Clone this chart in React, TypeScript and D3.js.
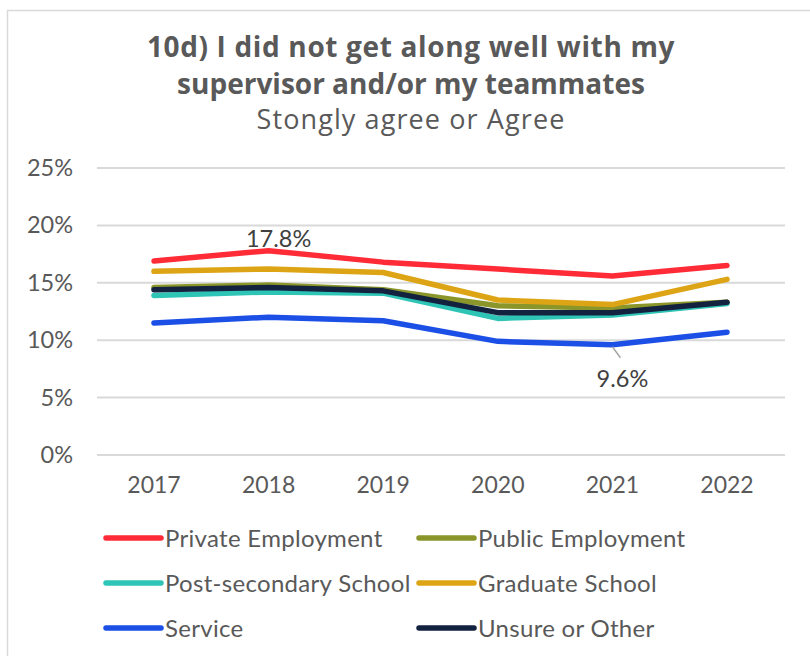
import React from "react";
import * as d3 from "d3";

const years = ["2017", "2018", "2019", "2020", "2021", "2022"];
const yTicks = [0, 5, 10, 15, 20, 25];
const seriesNames = ["Private Employment", "Public Employment", "Post-secondary School", "Graduate School", "Service", "Unsure or Other"];
const seriesColors = ["#FF2B36", "#8A962A", "#2EC4B6", "#DDA515", "#1B4FE6", "#13223F"];
const privateEmp = [16.9, 17.8, 16.8, 16.2, 15.6, 16.5];
const publicEmp = [14.6, 14.8, 14.4, 13.0, 12.8, 13.3];
const postSecondary = [13.9, 14.2, 14.1, 11.9, 12.2, 13.2];
const graduate = [16.0, 16.2, 15.9, 13.5, 13.1, 15.3];
const service = [11.5, 12.0, 11.7, 9.9, 9.6, 10.7];
const unsure = [14.4, 14.6, 14.3, 12.4, 12.4, 13.3];
const seriesValues = [privateEmp, publicEmp, postSecondary, graduate, service, unsure];

const W = 810, H = 656;
const textColor = "#595959";
const font = "Lato, 'Open Sans', sans-serif";
const titleFont = "'Open Sans', Lato, sans-serif";

export default function App() {
  const x = d3.scalePoint<string>().domain(years).range([154, 727]);
  const y = d3.scaleLinear().domain([0, 25]).range([455, 168]);
  const line = d3.line<number>().x((_, i) => x(years[i])!).y((d) => y(d));

  const order = [0, 1, 2, 3, 4, 5];
  const legendRows = [538, 583, 628];
  const legendCols = [106, 419];

  return (
    <svg width={W} height={H} style={{ position: "absolute", left: 0, top: 0 }} fontFamily={font}>
      <rect x={0} y={0} width={W} height={H} fill="#fff" />
      <rect x={7.5} y={10.5} width={W + 10} height={H + 10} fill="none" stroke="#D9D9D9" strokeWidth={1.5} />
      <text x={411} y={57} textAnchor="middle" fontSize={28} fontWeight={700} letterSpacing={0.65} fill={textColor} fontFamily={titleFont}>
        10d) I did not get along well with my
      </text>
      <text x={411} y={94} textAnchor="middle" fontSize={28} fontWeight={700} letterSpacing={0} fill={textColor} fontFamily={titleFont}>
        supervisor and/or my teammates
      </text>
      <text x={411} y={129} textAnchor="middle" fontSize={27} letterSpacing={1.1} fill={textColor} fontFamily={titleFont}>
        Stongly agree or Agree
      </text>
      {yTicks.map((t) => (
        <g key={t}>
          <line x1={97} x2={785} y1={y(t)} y2={y(t)} stroke="#D9D9D9" strokeWidth={2} />
          <text x={73} y={y(t) + 8} textAnchor="end" fontSize={23.5} fill={textColor}>
            {t}%
          </text>
        </g>
      ))}
      {years.map((yr) => (
        <text key={yr} x={x(yr)} y={493} textAnchor="middle" fontSize={23} fill={textColor}>
          {yr}
        </text>
      ))}
      {order.map((i) => (
        <path key={i} d={line(seriesValues[i])!} fill="none" stroke={seriesColors[i]} strokeWidth={5.5} strokeLinejoin="round" strokeLinecap="round" />
      ))}
      <text x={x("2018")! + 10} y={y(privateEmp[1]) - 4} textAnchor="middle" fontSize={23.5} fill="#404040">
        {privateEmp[1].toFixed(1)}%
      </text>
      <line x1={x("2021")!} y1={y(service[4]) + 2} x2={x("2021")! + 8} y2={y(service[4]) + 13} stroke="#A6A6A6" strokeWidth={1.5} />
      <text x={x("2021")! + 10} y={y(service[4]) + 42} textAnchor="middle" fontSize={23.5} fill="#404040">
        {service[4].toFixed(1)}%
      </text>
      {seriesNames.map((n, i) => {
        const cx = legendCols[i % 2];
        const cy = legendRows[Math.floor(i / 2)];
        return (
          <g key={n}>
            <line x1={cx} x2={cx + 55} y1={cy} y2={cy} stroke={seriesColors[i]} strokeWidth={5.5} strokeLinecap="round" />
            <text x={cx + 59} y={cy + 9} fontSize={24} letterSpacing={0.3} fill={textColor}>
              {n}
            </text>
          </g>
        );
      })}
    </svg>
  );
}
